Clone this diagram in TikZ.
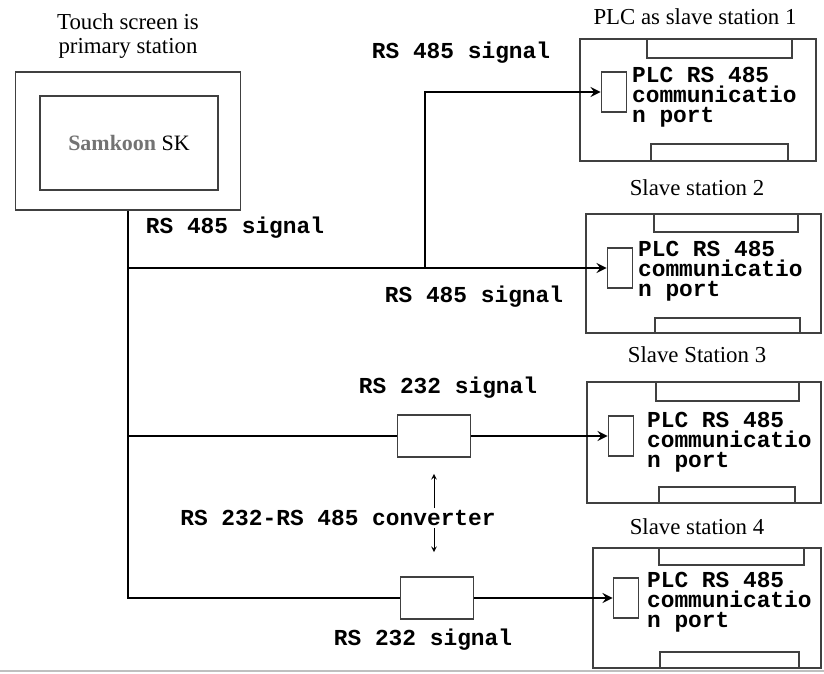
\documentclass[tikz,border=0pt]{standalone}
\usepackage{fontspec}
\setmainfont{Liberation Serif}
\newfontfamily\sigfont{Liberation Mono}
\usetikzlibrary{positioning}

\begin{document}
\begin{tikzpicture}[>=stealth, x=0.02cm, y=-0.02cm,
    frame/.style={draw=black!75, line width=1.1pt},
    wire/.style={line width=1.5pt},
    sig/.style={font=\sigfont\bfseries\fontsize{13}{11.5}\selectfont, inner sep=1pt},
    lab/.style={font=\fontsize{13}{13.8}\selectfont, inner sep=1pt},
    port/.style={frame, minimum width=0.5cm, minimum height=0.8cm, inner sep=0pt},
    conv/.style={frame, minimum width=1.46cm, minimum height=0.84cm, inner sep=0pt}]

    \useasboundingbox (0,0) rectangle (824,673);

    % =================================================================
    % TOUCH SCREEN (PRIMARY STATION)
    % =================================================================
    \node[frame, minimum width=4.5cm, minimum height=2.76cm, inner sep=0pt] (hmi) at (128,141) {};
    \node[frame, minimum width=3.56cm, minimum height=1.88cm, inner sep=0pt] (scr) at (129,143)
        {\fontsize{12.5}{14}\selectfont{\color{black!55}\bfseries Samkoon} SK};
    \node[lab, align=center, above=6pt] (hmilab) at (hmi.north) {Touch screen is\\primary station};

    % =================================================================
    % SLAVE STATIONS (outer box, upper and lower tabs)
    % =================================================================
    \foreach \xl/\xr/\yt/\yb/\ta/\tb/\td/\ba/\bb/\bh in {
        580/816/39/161/647/792/19/651/788/17,
        586/821/214/333/654/798/18/655/800/15,
        587/821/382/503/656/799/19/659/795/16,
        593/821/548/668/659/804/17/660/799/16} {
        \draw[frame] (\xl,\yt) rectangle (\xr,\yb);
        \draw[frame] (\ta,\yt) -- (\ta,\yt+\td) -- (\tb,\yt+\td) -- (\tb,\yt);
        \draw[frame] (\ba,\yb) -- (\ba,\yb-\bh) -- (\bb,\yb-\bh) -- (\bb,\yb);
    }

    \node[lab] (lab1) at (695,17) {PLC as slave station 1};
    \node[lab] (lab2) at (697,188) {Slave station 2};
    \node[lab] (lab3) at (697,355) {Slave Station 3};
    \node[lab] (lab4) at (697,527) {Slave station 4};

    % Communication ports
    \node[port] (port1) at (614,92) {};
    \node[port] (port2) at (620,268) {};
    \node[port] (port3) at (621,436) {};
    \node[port] (port4) at (626,598) {};

    \node[sig, align=left, anchor=west] (txt1) at (630,97) {PLC RS 485\\communicatio\\n port};
    \node[sig, align=left, anchor=west] (txt2) at (636,271) {PLC RS 485\\communicatio\\n port};
    \node[sig, align=left, anchor=west] (txt3) at (645,442) {PLC RS 485\\communicatio\\n port};
    \node[sig, align=left, anchor=west] (txt4) at (645,602) {PLC RS 485\\communicatio\\n port};

    % =================================================================
    % BUS LINES AND CONVERTERS
    % =================================================================
    \node[conv] (conv1) at (434,436) {};
    \node[conv] (conv2) at (437,598) {};

    \coordinate (j2) at (128,268);
    \coordinate (j3) at (128,436);
    \coordinate (j4) at (128,598);
    \coordinate (br) at (425,268);

    \draw[wire] (hmi.south) -- (j4) -- (conv2.west);
    \draw[wire, ->] (conv2.east) -- (port4.west);
    \draw[wire, ->] (j2) -- (port2.west);
    \draw[wire, ->] (br) |- (port1.west);
    \draw[wire] (j3) -- (conv1.west);
    \draw[wire, ->] (conv1.east) -- (port3.west);

    % Signal labels
    \node[sig] (s485a) at (461,53) {RS 485 signal};
    \node[sig] (s485b) at (235,228) {RS 485 signal};
    \node[sig] (s485c) at (474,297) {RS 485 signal};
    \node[sig] (s232a) at (448,388) {RS 232 signal};
    \node[sig] (s232b) at (423,640) {RS 232 signal};

    % Converter label with its two small arrows
    \node[sig] (convlab) at (338,518) {RS 232-RS 485 converter};
    \draw[->, thin, shorten >=0.32cm] (convlab.north -| conv1.south) -- (conv1.south);
    \draw[->, thin, shorten >=0.48cm] (convlab.south -| conv1.south) -- (conv2.north -| conv1.south);

    % Lower border of the screenshot
    \draw[black!25, line width=1pt] (0,671) -- (824,671);

\end{tikzpicture}
\end{document}
